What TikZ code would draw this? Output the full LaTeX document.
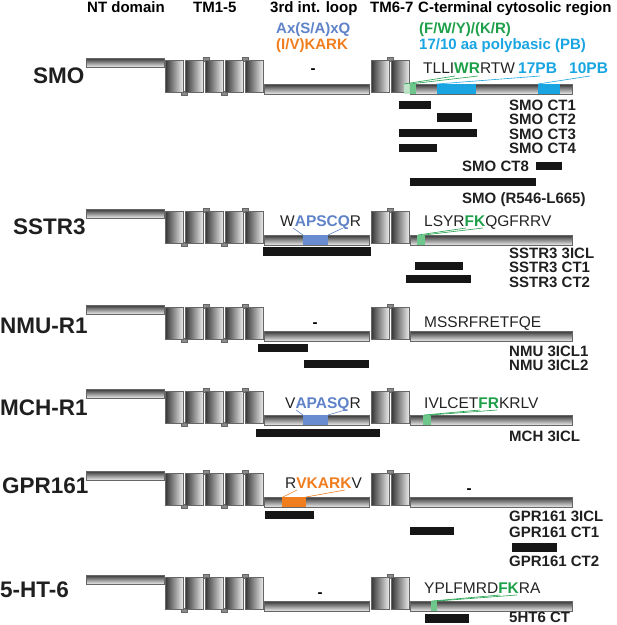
\documentclass[tikz,border=0pt]{standalone}
\usepackage{fontspec}
\setmainfont{Liberation Sans}
\definecolor{motifblue}{RGB}{95,130,200}
\definecolor{boxblue}{RGB}{105,140,208}
\definecolor{motiforange}{RGB}{240,125,30}
\definecolor{motifgreen}{RGB}{30,160,75}
\definecolor{patchgreen}{RGB}{110,200,140}
\definecolor{palegreen}{RGB}{190,232,200}
\definecolor{pbcyan}{RGB}{25,165,225}
\definecolor{seqgrey}{RGB}{35,35,35}
\definecolor{barblack}{RGB}{22,22,22}
\tikzset{
  hbar/.style={top color=black!80, bottom color=black!8, draw=black!60, line width=0.5pt},
  tmbox/.style={left color=black!80, right color=black!8, draw=black!60, line width=0.5pt},
  tabbox/.style={fill=black!45, draw=black!60, line width=0.4pt},
  expbar/.style={fill=barblack},
  header/.style={font=\fontsize{15}{15}\selectfont\bfseries, inner sep=0pt, anchor=base west},
  rowname/.style={font=\fontsize{22.5}{22.5}\selectfont\bfseries, text=black!88, inner sep=0pt, anchor=base west},
  seq/.style={font=\fontsize{15.5}{15.5}\selectfont, text=seqgrey, inner sep=0pt, anchor=base west},
  seqbold/.style={seq, font=\fontsize{15.5}{15.5}\selectfont\bfseries},
  dashmark/.style={font=\fontsize{15}{15}\selectfont\bfseries, inner sep=0pt, anchor=base},
  cname/.style={font=\fontsize{15}{15}\selectfont\bfseries, text=black!88, inner sep=0pt, anchor=base west},
  lead/.style={line width=0.6pt},
}
\newcommand\gpcrrow[1]{%
  \begin{scope}[shift={(0,#1)}]
    \path[tabbox] (203,-3) rectangle (209,1);
    \path[tabbox] (242,-3) rectangle (248,1);
    \path[tabbox] (181,31) rectangle (187,35);
    \path[tabbox] (221,31) rectangle (227,35);
    \path[tabbox] (387,-3) rectangle (393,1);
    \path[hbar] (86,-2) rectangle (164,7);
    \foreach \xx in {165,185,205,225,245} {\path[tmbox] (\xx,0) rectangle ++(18,32);}
    \path[hbar] (264,24) rectangle (369,34);
    \path[tmbox] (371,0) rectangle (389,32);
    \path[tmbox] (391,0) rectangle (409,32);
    \path[hbar] (410,24) rectangle (572,34);
  \end{scope}}
\begin{document}
\begin{tikzpicture}[x=1pt,y=-1pt]
\useasboundingbox (0,0) rectangle (617,625);

% headers
\node[header] (hNT) at (87,12) {NT domain};
\node[header] (hTMa) at (193,12) {TM1-5};
\node[header] (hloop) at (270,12) {3rd int. loop};
\node[header] (hTMb) at (370,12) {TM6-7};
\node[header] (hCT) at (418,12) {C-terminal cytosolic region};
\node[header, text=motifblue] (mA) at (276,33) {Ax(S/A)xQ};
\node[header, text=motiforange] (mB) at (276,49) {(I/V)KARK};
\node[header, text=motifgreen] (mC) at (419,33) {(F/W/Y)/(K/R)};
\node[header, text=pbcyan] (mD) at (419,49) {17/10 aa polybasic (PB)};

% receptor rows
\gpcrrow{60}
\gpcrrow{211}
\gpcrrow{307}
\gpcrrow{391}
\gpcrrow{473}
\gpcrrow{577}

% row names
\node[rowname] (smo) at (33,83) {SMO};
\node[rowname] (sstr) at (13,234) {SSTR3};
\node[rowname] (nmu) at (0,333) {NMU-R1};
\node[rowname] (mch) at (0,415) {MCH-R1};
\node[rowname] (gpr) at (2,493) {GPR161};
\node[rowname] (htr) at (0,597) {5-HT-6};

% ---------- SMO ----------
\fill[pbcyan] (437,84) rectangle (476,94);
\fill[pbcyan] (538,84) rectangle (560,94);
\fill[palegreen, opacity=0.9] (404,84) rectangle (410,94);
\fill[patchgreen] (410,84) rectangle (416,94);
\node[seq] (smoseq) at (423,73) {TLLI\textbf{\textcolor{motifgreen}{WR}}RTW};
\node[seqbold, text=pbcyan] (pbA) at (518,73) {17PB};
\node[seqbold, text=pbcyan] (pbB) at (569,73) {10PB};
\node[dashmark] (dsmo) at (313,73) {-};
\coordinate (smoGa) at (404,84); \coordinate (smoGb) at (410,84);
\coordinate (smoW) at (455,76); \coordinate (smoR) at (478,76);
\coordinate (smoPa) at (437,84); \coordinate (smoPb) at (538,84);
\coordinate (pbAu) at (540,76); \coordinate (pbBu) at (590,76);
\draw[lead, motifgreen] (smoGa) -- (smoW);
\draw[lead, motifgreen] (smoGb) -- (smoR);
\draw[lead, pbcyan] (smoPa) -- (pbAu);
\draw[lead, pbcyan] (smoPb) -- (pbBu);
\fill[expbar] (399,101) rectangle (431,109);
\fill[expbar] (437,113) rectangle (472,122);
\fill[expbar] (399,129) rectangle (477,137);
\fill[expbar] (399,144) rectangle (437,152);
\fill[expbar] (536,162) rectangle (562,170);
\fill[expbar] (410,178) rectangle (536,186);
\node[cname] (smoCTa) at (509,110) {SMO CT1};
\node[cname] (smoCTb) at (509,124) {SMO CT2};
\node[cname] (smoCTc) at (509,139) {SMO CT3};
\node[cname] (smoCTd) at (509,153) {SMO CT4};
\node[cname] (smoCTh) at (462,171) {SMO CT8};
\node[cname] (smoRL) at (462,203) {SMO (R546-L665)};

% ---------- SSTR3 ----------
\fill[boxblue] (303,235) rectangle (328,245);
\fill[patchgreen] (417,235) rectangle (425,245);
\node[seq] (sstrloop) at (280,226) {W\textbf{\textcolor{motifblue}{APSCQ}}R};
\node[seq] (sstrct) at (424,226) {LSYR\textbf{\textcolor{motifgreen}{FK}}QGFRRV};
\coordinate (sstrBa) at (303,235); \coordinate (sstrBb) at (328,235);
\coordinate (sstrA) at (293,228); \coordinate (sstrQ) at (343,228);
\coordinate (sstrGa) at (418,235); \coordinate (sstrGb) at (424,235);
\coordinate (sstrF) at (466,228); \coordinate (sstrK) at (483,228);
\draw[lead, motifblue] (sstrBa) -- (sstrA);
\draw[lead, motifblue] (sstrBb) -- (sstrQ);
\draw[lead, motifgreen] (sstrGa) -- (sstrF);
\draw[lead, motifgreen] (sstrGb) -- (sstrK);
\fill[expbar] (263,247) rectangle (371,256);
\fill[expbar] (415,262) rectangle (463,270);
\fill[expbar] (406,275) rectangle (471,283);
\node[cname] (sstrIa) at (509,258) {SSTR3 3ICL};
\node[cname] (sstrCa) at (509,272) {SSTR3 CT1};
\node[cname] (sstrCb) at (509,287) {SSTR3 CT2};

% ---------- NMU-R1 ----------
\node[seq] (nmuct) at (424,327) {MSSRFRETFQE};
\node[dashmark] (dnmu) at (315,327) {-};
\fill[expbar] (258,344) rectangle (308,352);
\fill[expbar] (304,360) rectangle (369,368);
\node[cname] (nmuIa) at (509,356) {NMU 3ICL1};
\node[cname] (nmuIb) at (509,370) {NMU 3ICL2};

% ---------- MCH-R1 ----------
\fill[boxblue] (303,415) rectangle (328,425);
\fill[patchgreen] (423,415) rectangle (431,425);
\node[seq] (mchloop) at (285,408) {V\textbf{\textcolor{motifblue}{APASQ}}R};
\node[seq] (mchct) at (424,408) {IVLCET\textbf{\textcolor{motifgreen}{FR}}KRLV};
\coordinate (mchBa) at (303,415); \coordinate (mchBb) at (328,415);
\coordinate (mchA) at (296,410); \coordinate (mchQ) at (345,410);
\coordinate (mchGa) at (424,415); \coordinate (mchGb) at (430,415);
\coordinate (mchF) at (480,410); \coordinate (mchR) at (497,410);
\draw[lead, motifblue] (mchBa) -- (mchA);
\draw[lead, motifblue] (mchBb) -- (mchQ);
\draw[lead, motifgreen] (mchGa) -- (mchF);
\draw[lead, motifgreen] (mchGb) -- (mchR);
\fill[expbar] (256,429) rectangle (380,437);
\node[cname] (mchI) at (509,441) {MCH 3ICL};

% ---------- GPR161 ----------
\fill[motiforange] (282,497) rectangle (306,507);
\node[seq] (gprloop) at (285,488) {R\textbf{\textcolor{motiforange}{VKARK}}V};
\node[dashmark] (dgpr) at (469,493) {-};
\coordinate (gprOa) at (283,497); \coordinate (gprOb) at (306,497);
\coordinate (gprV) at (297,490); \coordinate (gprK) at (345,490);
\draw[lead, motiforange] (gprOa) -- (gprV);
\draw[lead, motiforange] (gprOb) -- (gprK);
\fill[expbar] (265,511) rectangle (314,519);
\fill[expbar] (410,527) rectangle (454,535);
\fill[expbar] (512,543) rectangle (557,552);
\node[cname] (gprI) at (509,521) {GPR161 3ICL};
\node[cname] (gprCa) at (509,537) {GPR161 CT1};
\node[cname] (gprCb) at (509,566) {GPR161 CT2};

% ---------- 5-HT-6 ----------
\fill[patchgreen] (431,601) rectangle (437,611);
\node[seq] (htrct) at (424,593) {YPLFMRD\textbf{\textcolor{motifgreen}{FK}}RA};
\node[dashmark] (dhtr) at (320,597) {-};
\coordinate (htrGa) at (432,601); \coordinate (htrGb) at (437,601);
\coordinate (htrF) at (500,595); \coordinate (htrK) at (517,595);
\draw[lead, motifgreen] (htrGa) -- (htrF);
\draw[lead, motifgreen] (htrGb) -- (htrK);
\fill[expbar] (425,614) rectangle (469,623);
\node[cname] (htrC) at (509,622) {5HT6 CT};
\end{tikzpicture}
\end{document}
